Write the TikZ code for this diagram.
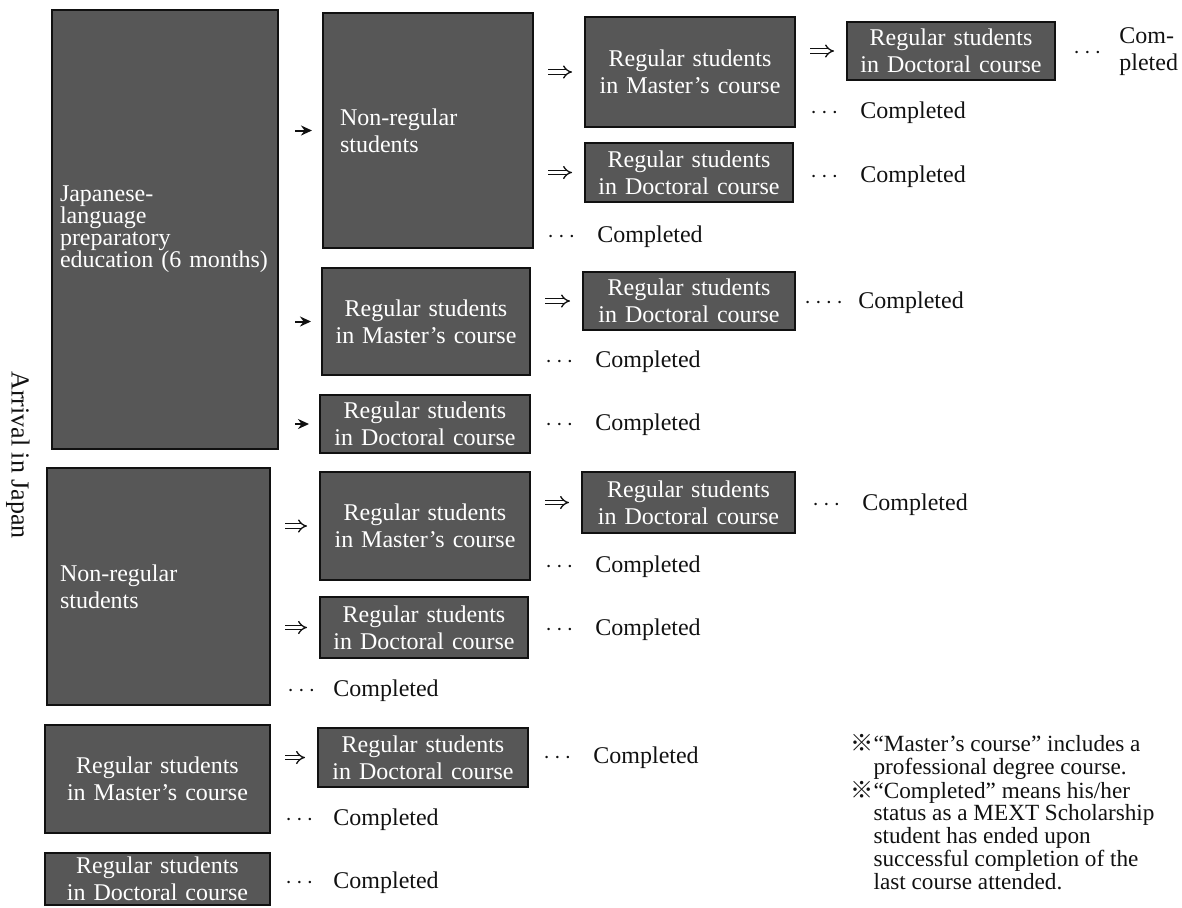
\documentclass[tikz,border=0pt]{standalone}
\usepackage{fontspec}
\setmainfont{Liberation Serif}
\newfontfamily\cjkfont{Noto Sans CJK JP}
\usetikzlibrary{arrows.meta}
\begin{document}
\begin{tikzpicture}[x=0.5pt,y=-0.5pt,font=\fontsize{12}{13.5}\selectfont]
\definecolor{ink}{HTML}{111111}\definecolor{boxfill}{HTML}{575757}
\tikzset{
 box/.style={draw=ink,line width=1pt,fill=boxfill,text=white,inner sep=0.5pt,align=center},
 done/.style={anchor=west,text=ink,inner sep=0pt},
 sarr/.style={draw=ink,line width=1pt,-{Stealth[length=5.5pt,width=5pt]},shorten <=8pt,shorten >=5pt},
 darr/.style={draw=ink,double,double distance=1.6pt,line width=0.65pt,-{Implies},shorten <=7pt,shorten >=6pt}
}
\useasboundingbox (0,0) rectangle (1182,907);
\node[rotate=-90,text=ink,font=\fontsize{13}{13}\selectfont] (arrival) at (18,455) {Arrival in Japan};
\node[box,minimum width=113pt,minimum height=219.5pt,text width=105pt,align=left,font=\fontsize{12}{11}\selectfont] (prep) at (165,229.5) {Japanese-\\language\\preparatory\\education (6 months)};
\node[box,minimum width=111.5pt,minimum height=118.5pt,text width=98.5pt,align=left] (nonreg) at (158.5,586.5) {Non-regular\\students};
\node[box,minimum width=112.5pt,minimum height=54pt,text width=104pt] (mast) at (157.5,779) {Regular students\\in Master's course};
\node[box,minimum width=112.5pt,minimum height=26pt,text width=104pt] (doct) at (157.5,879) {Regular students\\in Doctoral course};
\node[box,minimum width=105pt,minimum height=117.5pt,text width=88pt,align=left] (prepnon) at (428,130.5) {Non-regular\\students};
\node[box,minimum width=104pt,minimum height=53.5pt,text width=100pt] (prepmast) at (426,321.5) {Regular students\\in Master's course};
\node[box,minimum width=105pt,minimum height=29pt,text width=100pt] (prepdoct) at (425,424) {Regular students\\in Doctoral course};
\node[box,minimum width=105pt,minimum height=54pt,text width=100pt] (nonmast) at (425,526) {Regular students\\in Master's course};
\node[box,minimum width=104pt,minimum height=30.5pt,text width=100pt] (nondoct) at (424,627.5) {Regular students\\in Doctoral course};
\node[box,minimum width=105pt,minimum height=29.5pt,text width=100pt] (mastdoct) at (423,757.5) {Regular students\\in Doctoral course};
\node[box,minimum width=105pt,minimum height=55pt,text width=100pt] (pnmast) at (690,72) {Regular students\\in Master's course};
\node[box,minimum width=104pt,minimum height=29.5pt,text width=100pt] (pndoct) at (689,172.5) {Regular students\\in Doctoral course};
\node[box,minimum width=106pt,minimum height=29pt,text width=100pt] (pmdoct) at (689,301) {Regular students\\in Doctoral course};
\node[box,minimum width=106.5pt,minimum height=30.5pt,text width=100pt] (nmdoct) at (688.5,502.5) {Regular students\\in Doctoral course};
\node[box,minimum width=104pt,minimum height=29pt,text width=100pt] (pnmdoct) at (951,51) {Regular students\\in Doctoral course};
\draw[sarr] (prep.east |- prepnon.west) -- (prepnon.west);
\draw[sarr] (prep.east |- prepmast.west) -- (prepmast.west);
\draw[sarr] (prep.east |- prepdoct.west) -- (prepdoct.west);
\draw[darr] (prepnon.east |- pnmast.west) -- (pnmast.west);
\draw[darr] (prepnon.east |- pndoct.west) -- (pndoct.west);
\draw[darr] (pnmast.east |- pnmdoct.west) -- (pnmdoct.west);
\draw[darr] (prepmast.east |- pmdoct.west) -- (pmdoct.west);
\draw[darr] (nonreg.east |- nonmast.west) -- (nonmast.west);
\draw[darr] (nonreg.east |- nondoct.west) -- (nondoct.west);
\draw[darr] (nonmast.east |- nmdoct.west) -- (nmdoct.west);
\draw[darr] (mast.east |- mastdoct.west) -- (mastdoct.west);
\node[done] (d1) at (1073,52) {\makebox[23pt][l]{$\cdots$}\parbox[c]{40pt}{Com-\\pleted}};
\node[done] (d2) at (810,113) {\makebox[25pt][l]{$\cdots$}Completed};
\node[done] (d3) at (810,177) {\makebox[25pt][l]{$\cdots$}Completed};
\node[done] (d4) at (547,237) {\makebox[25pt][l]{$\cdots$}Completed};
\node[done] (d5) at (804,303) {\makebox[27pt][l]{$\cdot\cdots$}Completed};
\node[done] (d6) at (545,362) {\makebox[25pt][l]{$\cdots$}Completed};
\node[done] (d7) at (545,425) {\makebox[25pt][l]{$\cdots$}Completed};
\node[done] (d8) at (812,505) {\makebox[25pt][l]{$\cdots$}Completed};
\node[done] (d9) at (545,567) {\makebox[25pt][l]{$\cdots$}Completed};
\node[done] (d10) at (545,630) {\makebox[25pt][l]{$\cdots$}Completed};
\node[done] (d11) at (287,691) {\makebox[23pt][l]{$\cdots$}Completed};
\node[done] (d12) at (543,758) {\makebox[25pt][l]{$\cdots$}Completed};
\node[done] (d13) at (285,820) {\makebox[24pt][l]{$\cdots$}Completed};
\node[done] (d14) at (285,883) {\makebox[24pt][l]{$\cdots$}Completed};
\node[anchor=north west,text=ink,inner sep=0pt,font=\fontsize{11.6}{11.3}\selectfont] (notes) at (850,734) {\def\arraystretch{0.97}\begin{tabular}{@{}l@{}l@{}}{\cjkfont ※}&``Master's course'' includes a\\&professional degree course.\\{\cjkfont ※}&``Completed'' means his/her\\&status as a MEXT Scholarship\\&student has ended upon\\&successful completion of the\\&last course attended.\end{tabular}};
\end{tikzpicture}
\end{document}
